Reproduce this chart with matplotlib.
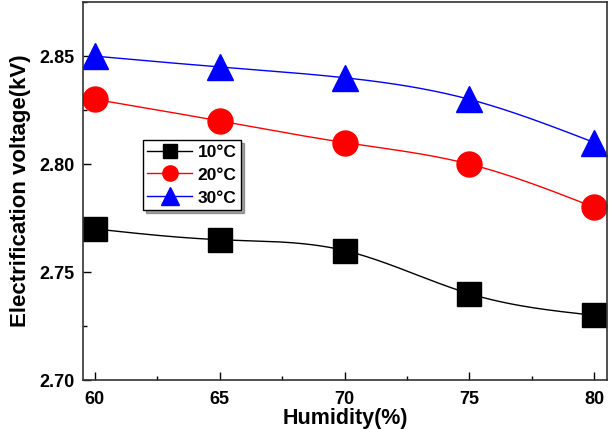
import numpy as np
import matplotlib
matplotlib.use("Agg")
import matplotlib.pyplot as plt
from matplotlib.ticker import MultipleLocator

plt.rcParams['font.family'] = ['Liberation Sans', 'DejaVu Sans']
plt.rcParams['font.weight'] = 'bold'

humidity = [60, 65, 70, 75, 80]
v10 = [2.770, 2.765, 2.760, 2.740, 2.730]
v20 = [2.830, 2.820, 2.810, 2.800, 2.780]
v30 = [2.850, 2.845, 2.840, 2.830, 2.810]
labels = ['10°C', '20°C', '30°C']


def natural_spline(x, y, n=200):
    # natural cubic spline through the data points
    x = np.asarray(x, float)
    y = np.asarray(y, float)
    k = len(x)
    h = np.diff(x)
    A = np.zeros((k, k))
    b = np.zeros(k)
    A[0, 0] = A[-1, -1] = 1
    for i in range(1, k - 1):
        A[i, i - 1] = h[i - 1]
        A[i, i] = 2 * (h[i - 1] + h[i])
        A[i, i + 1] = h[i]
        b[i] = 6 * ((y[i + 1] - y[i]) / h[i] - (y[i] - y[i - 1]) / h[i - 1])
    M = np.linalg.solve(A, b)
    xs = np.linspace(x[0], x[-1], n)
    idx = np.clip(np.searchsorted(x, xs) - 1, 0, k - 2)
    x0, x1 = x[idx], x[idx + 1]
    hh = x1 - x0
    t0 = x1 - xs
    t1 = xs - x0
    ys = (M[idx] * t0 ** 3 + M[idx + 1] * t1 ** 3) / (6 * hh) \
        + (y[idx] / hh - M[idx] * hh / 6) * t0 \
        + (y[idx + 1] / hh - M[idx + 1] * hh / 6) * t1
    return xs, ys


fig = plt.figure(figsize=(6.14, 4.29), dpi=100)
ax = fig.add_axes([0.135, 0.114, 0.854, 0.881])

series = [(v10, 'black', 's', 17, 10), (v20, 'red', 'o', 18, 11), (v30, 'blue', '^', 19, 13)]
for (vals, c, m, ms, lms), lab in zip(series, labels):
    xs, ys = natural_spline(humidity, vals)
    ax.plot(xs, ys, color=c, lw=1.0)
    ax.plot(humidity, vals, ls='none', marker=m, color=c, ms=ms)
    ax.plot([], [], color=c, marker=m, ms=lms, lw=1.0, label=lab)

ax.set_xlim(59.52, 80.52)
ax.set_ylim(2.70, 2.875)
ax.xaxis.set_major_locator(MultipleLocator(5))
ax.xaxis.set_minor_locator(MultipleLocator(2.5))
ax.yaxis.set_major_locator(MultipleLocator(0.05))
ax.yaxis.set_minor_locator(MultipleLocator(0.025))
ax.yaxis.set_major_formatter(matplotlib.ticker.FormatStrFormatter('%.2f'))
ax.tick_params(which='both', direction='in', top=False, right=False, labelsize=13)
ax.tick_params(axis='x', pad=8)
ax.tick_params(axis='y', pad=6)
ax.tick_params(which='major', length=6, width=1)
ax.tick_params(which='minor', length=3, width=1)
for s in ax.spines.values():
    s.set_linewidth(1.2)
    s.set_color('#333333')

ax.set_xlabel('Humidity(%)', fontsize=15.5, fontweight='bold', labelpad=0)
ax.set_ylabel('Electrification voltage(kV)', fontsize=16, fontweight='bold', labelpad=6)

leg = ax.legend(loc='upper left', bbox_to_anchor=(0.1145, 0.635), borderaxespad=0,
                frameon=True, shadow=True, fancybox=False, fontsize=12.5,
                handlelength=2.6, handletextpad=0.3, borderpad=0.25,
                labelspacing=0.45, edgecolor='black')
leg.get_frame().set_linewidth(1.0)

fig.savefig('out.png', dpi=100)
